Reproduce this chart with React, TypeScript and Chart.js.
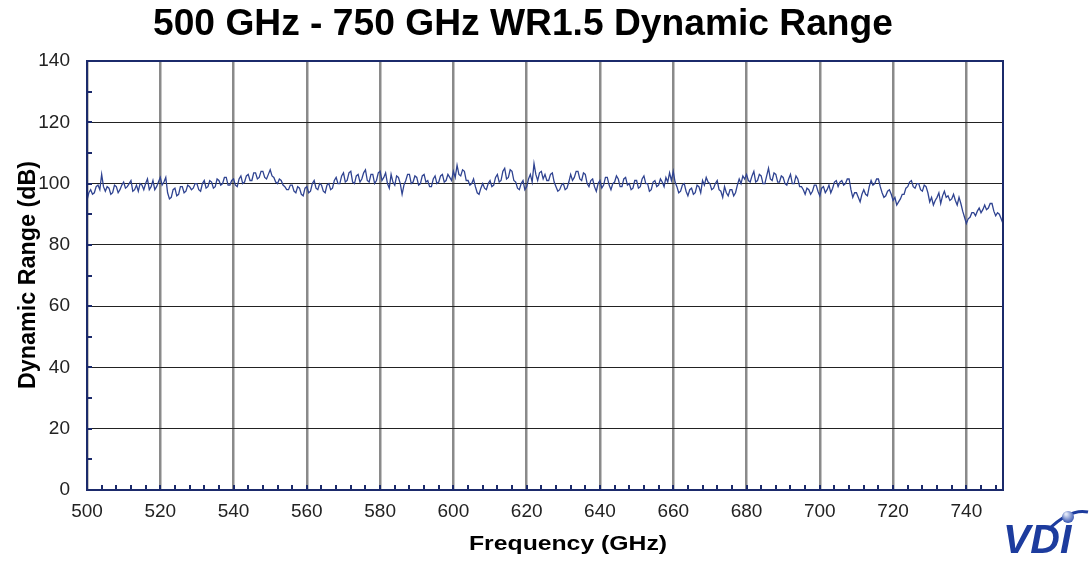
import React, { useEffect, useRef } from 'react';
import { Chart, registerables } from 'chart.js';

Chart.register(...registerables);

const TITLE = '500 GHz - 750 GHz WR1.5 Dynamic Range';
const X_TITLE = 'Frequency (GHz)';
const Y_TITLE = 'Dynamic Range (dB)';
const LOGO = 'VDI';

const FREQ_START = 500;
const FREQ_STEP = 0.5;
// Dynamic range (dB), one reading every 0.5 GHz from 500 to 750 GHz (20 readings per row = 10 GHz)
const DYNAMIC_RANGE = [
  94.5, 97, 98, 96.5, 97, 99, 99.5, 98, 103, 99, 97.5, 99, 98.5, 96.5, 97, 99.5, 99, 97, 98, 99.5,
  100.5, 98.5, 99, 100, 101, 97.5, 98, 99.5, 97.5, 100, 99.5, 98, 100, 101.5, 98, 99, 101, 98, 99, 100.5,
  102, 99.5, 100.5, 102, 97, 95, 95.5, 98, 98.5, 96, 96.5, 99, 99, 97, 97.5, 99.5, 99, 98, 98.5, 100,
  100, 98, 97.5, 100, 101, 98.5, 99, 101, 100.5, 98.5, 99, 101.5, 101, 99.5, 100, 102, 102, 99.5, 99.5, 101,
  101.5, 99.5, 99, 101.5, 102.5, 100, 100.5, 102.5, 103, 101, 101, 103.5, 103.5, 101.5, 102, 104, 104, 102, 101.5, 103,
  104.5, 102.5, 102, 100.5, 100, 101.5, 101, 99.5, 99, 98, 98, 99.5, 99.5, 97.5, 97, 99, 98.5, 96.5, 96, 98.5,
  99, 97, 97.5, 100, 101, 98.5, 98, 100, 99.5, 97.5, 97, 99.5, 100, 98, 98.5, 101, 102, 100, 100, 102.5,
  103.5, 100.5, 101, 103.5, 104, 100.5, 100, 102.5, 103, 100.5, 101.5, 103.5, 104.5, 101, 100.5, 103, 103, 100, 101, 103.5,
  104, 101, 102, 103.5, 100, 98.5, 103, 100.5, 99.5, 102.5, 102, 100, 96.5, 99.5, 101, 103, 103, 100, 100.5, 102.5,
  102, 99.5, 100, 102.5, 103, 100.5, 101, 99, 99, 101.5, 102.5, 100, 100.5, 102.5, 103, 100.5, 101, 103, 102, 101,
  104, 102, 106, 103, 102.5, 104.5, 104, 101, 101, 99.5, 100, 101.5, 99, 97, 96.5, 98.5, 100, 98.5, 98, 100,
  101, 99, 99.5, 102, 103, 100.5, 101, 104, 105, 101.5, 102, 104.5, 104, 101, 100.5, 98.5, 98, 100, 101, 98,
  99, 101.5, 103, 100.5, 106.5, 103, 101, 103.5, 104, 101.5, 103, 101, 101, 103, 103.5, 100.5, 99, 97.5, 98, 99.5,
  100, 98, 98.5, 100.5, 103, 101, 102, 104, 104, 101.5, 101, 103.5, 103, 100, 99, 101, 101.5, 99, 97.5, 100,
  101, 98.5, 99.5, 102, 102, 99.5, 98, 100, 100.5, 102.5, 101.5, 99, 99, 101.5, 102, 99.5, 100, 98, 98.5, 101,
  101, 98.5, 99, 101.5, 102.5, 100, 100, 97.5, 98, 100.5, 101, 99, 99.5, 101.5, 100.5, 99, 102, 100.5, 103.5, 101,
  104, 100.5, 99, 97, 97.5, 99.5, 100, 97.5, 96, 98, 98.5, 96.5, 97, 99.5, 99, 97, 101, 99.5, 102, 100.5,
  100, 98, 98.5, 100, 101, 98, 97.5, 95.5, 99, 97, 96, 98, 98, 96, 97, 99.5, 101.5, 100, 102.5, 101.5,
  103, 101, 100.5, 102.5, 104, 100.5, 101, 103, 102.5, 100, 100, 102.5, 105, 101.5, 101, 103.5, 103, 100.5, 100.5, 102.5,
  102, 100, 99.5, 101.5, 103, 100, 100, 102.5, 101.5, 99, 99, 98, 96.5, 98.5, 98, 96.5, 97.5, 99.5, 99.5, 97.5,
  96, 98.5, 99, 97, 98, 99.5, 97, 98.5, 100.5, 101, 99, 100.5, 101, 99.5, 100, 101.5, 101.5, 98, 95.5, 97,
  97, 95.5, 94, 96.5, 98, 96.5, 96, 99, 101, 99.5, 100, 101.5, 101.5, 99, 97, 95.5, 96, 97.5, 98, 96.5,
  94.5, 95.5, 93, 94, 95, 96.5, 96.5, 98.5, 99, 100.5, 101, 99, 98.5, 100, 100, 98, 97.5, 99.5, 99, 97,
  94, 95.5, 93, 94.5, 95.5, 97, 93.5, 96, 97.5, 95.5, 96, 94.5, 95, 96.5, 94.5, 93, 95.5, 93.5, 91, 89,
  87, 88.5, 89, 90.5, 90.5, 89.5, 91, 92, 90.5, 91.5, 93, 91.5, 92, 93.5, 93.5, 91, 89.5, 90.5, 90, 88.5,
  87,
];

const X_MIN = 500;
const X_MAX = 750;
const X_MAJOR = 20;
const X_MINOR = 4;
const Y_MIN = 0;
const Y_MAX = 140;
const Y_MAJOR = 20;
const Y_MINOR = 10;

const FONT = '"Liberation Sans", Arial, sans-serif';
const NAVY = '#1b2a6b';
const LINE = '#2f4391';

function fitText(ctx: any, text: string, x: number, y: number, width: number) {
  const w = ctx.measureText(text).width;
  ctx.save();
  ctx.translate(x, y);
  ctx.scale(width / w, 1);
  ctx.textAlign = 'center';
  ctx.fillText(text, 0, 0);
  ctx.restore();
}

const overlay = {
  id: 'overlay',
  afterDraw(chart: any) {
    const { ctx, chartArea } = chart;
    const { left, right, top, bottom } = chartArea;
    const xs = chart.scales.x;
    const ys = chart.scales.y;
    ctx.save();
    // minor ticks
    ctx.strokeStyle = NAVY;
    ctx.lineWidth = 2;
    ctx.beginPath();
    for (let f = X_MIN + X_MINOR; f < X_MAX; f += X_MINOR) {
      const px = Math.round(xs.getPixelForValue(f));
      ctx.moveTo(px, bottom);
      ctx.lineTo(px, bottom - 5);
    }
    for (let v = Y_MIN + Y_MINOR; v < Y_MAX; v += Y_MINOR) {
      const py = Math.round(ys.getPixelForValue(v));
      ctx.moveTo(left, py);
      ctx.lineTo(left + 5, py);
    }
    ctx.stroke();
    // frame
    ctx.lineWidth = 2;
    ctx.strokeRect(left, top, right - left, bottom - top);
    // titles
    ctx.fillStyle = '#000';
    ctx.textBaseline = 'alphabetic';
    ctx.font = 'bold 37px ' + FONT;
    fitText(ctx, TITLE, 523, 35, 740);
    ctx.font = 'bold 21px ' + FONT;
    fitText(ctx, X_TITLE, 568, 550, 198);
    ctx.save();
    ctx.translate(35, 275);
    ctx.rotate(-Math.PI / 2);
    ctx.font = 'bold 23px ' + FONT;
    fitText(ctx, Y_TITLE, 0, 0, 228);
    ctx.restore();
    // logo
    ctx.fillStyle = '#1d3c9e';
    ctx.font = 'italic bold 38px ' + FONT;
    ctx.save();
    ctx.translate(1003, 553);
    ctx.scale(1.08, 1.05);
    ctx.textAlign = 'left';
    ctx.fillText(LOGO, 0, 0);
    ctx.restore();
    ctx.strokeStyle = '#1d3c9e';
    ctx.lineWidth = 3;
    ctx.beginPath();
    ctx.moveTo(1048, 530);
    ctx.quadraticCurveTo(1070, 508, 1088, 512);
    ctx.stroke();
    const g = ctx.createRadialGradient(1066, 514, 1, 1068, 516, 7);
    g.addColorStop(0, '#dfe6f7');
    g.addColorStop(1, '#3453b0');
    ctx.fillStyle = g;
    ctx.beginPath();
    ctx.arc(1068, 517, 6, 0, Math.PI * 2);
    ctx.fill();
    ctx.restore();
  },
};

export default function App() {
  const ref = useRef<HTMLCanvasElement>(null);
  useEffect(() => {
    document.body.style.margin = '0';
    const points = DYNAMIC_RANGE.map((v, i) => ({ x: FREQ_START + i * FREQ_STEP, y: v }));
    const chart = new Chart(ref.current as HTMLCanvasElement, {
      type: 'line',
      data: {
        datasets: [
          {
            data: points,
            borderColor: LINE,
            borderWidth: 1.3,
            pointRadius: 0,
            tension: 0,
            fill: false,
          },
        ],
      },
      options: {
        animation: false,
        responsive: false,
        devicePixelRatio: 1,
        layout: { padding: { left: 0, top: 61, right: 87, bottom: 0 } },
        plugins: { legend: { display: false }, title: { display: false }, tooltip: { enabled: false } },
        scales: {
          x: {
            type: 'linear',
            min: X_MIN,
            max: X_MAX,
            border: { display: false },
            grid: { color: '#8a8a8a', lineWidth: 2.5, drawTicks: false },
            ticks: {
              stepSize: X_MAJOR,
              includeBounds: false,
              padding: 10,
              color: '#222',
              font: { family: FONT, size: 19 },
              maxRotation: 0,
            },
            afterFit: (s: any) => { s.height = 73; },
          },
          y: {
            min: Y_MIN,
            max: Y_MAX,
            border: { display: false },
            grid: { color: '#222', lineWidth: 1, drawTicks: false },
            ticks: {
              stepSize: Y_MAJOR,
              padding: 17,
              color: '#222',
              font: { family: FONT, size: 19 },
            },
            afterFit: (s: any) => { s.width = 87; },
          },
        },
      },
      plugins: [overlay],
    });
    return () => chart.destroy();
  }, []);
  return (
    <div style={{ position: 'fixed', left: 0, top: 0, width: 1090, height: 563, background: '#fff' }}>
      <canvas ref={ref} width={1090} height={563} style={{ width: 1090, height: 563 }} />
    </div>
  );
}
